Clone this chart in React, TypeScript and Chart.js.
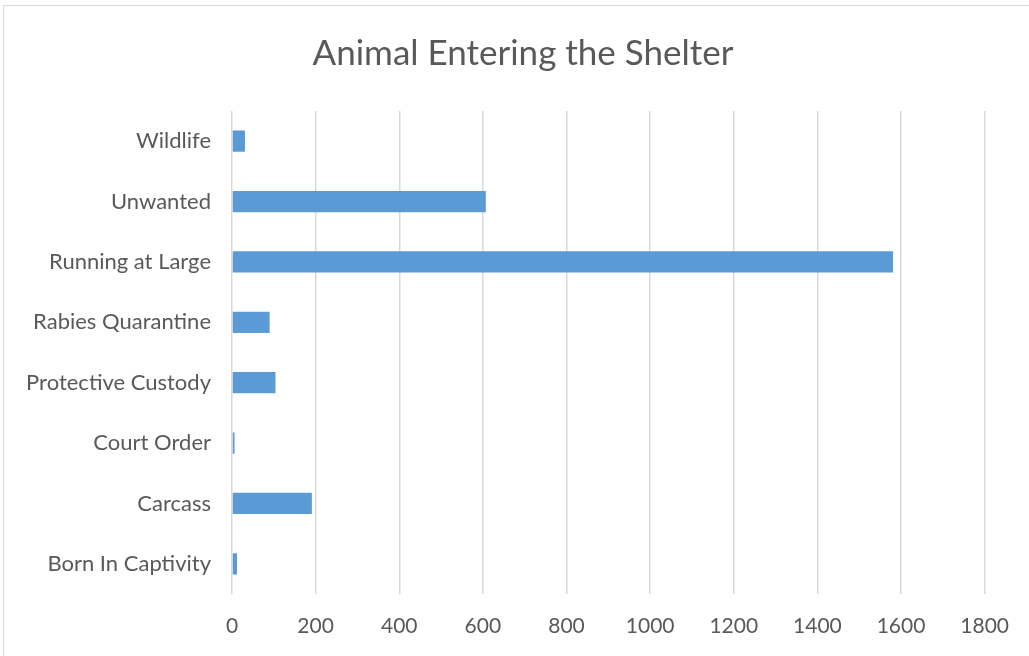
import React, { useEffect, useRef } from "react";
import { Chart, registerables } from "chart.js";

Chart.register(...registerables);

const categories = [
  "Wildlife",
  "Unwanted",
  "Running at Large",
  "Rabies Quarantine",
  "Protective Custody",
  "Court Order",
  "Carcass",
  "Born In Captivity",
];
const values = [31, 607, 1581, 90, 104, 6, 191, 12];
const xMin = 0;
const xMax = 1800;
const xStep = 200;

const FONT = "Lato, 'Open Sans', sans-serif";
const TEXT = "#595959";

const titleShift = {
  id: "titleShift",
  afterLayout(chart: any) {
    const t = chart.titleBlock;
    if (t) {
      t.left = 59;
      t.right = 987;
    }
  },
};

export default function App() {
  const ref = useRef<HTMLCanvasElement | null>(null);
  useEffect(() => {
    if (!ref.current) return;
    const chart = new Chart(ref.current, {
      type: "bar",
      data: {
        labels: categories,
        datasets: [
          {
            data: values,
            backgroundColor: "#5B9BD5",
            borderWidth: 0,
            barPercentage: 0.35,
            categoryPercentage: 1,
          },
        ],
      },
      plugins: [titleShift],
      options: {
        indexAxis: "y",
        animation: false,
        responsive: false,
        maintainAspectRatio: false,
        layout: { padding: { left: 5, right: 42, top: 0, bottom: 0 } },
        plugins: {
          legend: { display: false },
          tooltip: { enabled: false },
          title: {
            display: true,
            text: "Animal Entering the Shelter",
            color: TEXT,
            font: { family: FONT, size: 35, weight: "normal" },
            padding: { top: 33, bottom: 36 },
          },
        },
        scales: {
          x: {
            min: xMin,
            max: xMax,
            ticks: {
              stepSize: xStep,
              color: TEXT,
              font: { family: FONT, size: 21 },
              padding: 20,
              callback: (v: any) => String(v),
            },
            grid: { color: "#d9d9d9", lineWidth: 1.5, drawTicks: false },
            border: { display: false },
            afterFit: (s: any) => {
              s.height = 62;
            },
          },
          y: {
            ticks: {
              color: TEXT,
              font: { family: FONT, size: 22 },
              padding: 21,
            },
            grid: { display: false, drawTicks: false },
            border: { display: false },
            afterFit: (s: any) => {
              s.width = 227;
            },
          },
        },
      },
    });
    return () => chart.destroy();
  }, []);
  return (
    <div style={{ position: "fixed", left: 0, top: 0, width: 1029, height: 656, background: "#fff", overflow: "hidden" }}>
      <canvas ref={ref} width={1029} height={656} style={{ position: "absolute", left: 0, top: 0, width: 1029, height: 656 }} />
      <div
        style={{
          position: "absolute",
          left: 3,
          top: 5,
          width: 1100,
          height: 700,
          borderLeft: "1.5px solid #d9d9d9",
          borderTop: "1.5px solid #d9d9d9",
          pointerEvents: "none",
        }}
      />
    </div>
  );
}
